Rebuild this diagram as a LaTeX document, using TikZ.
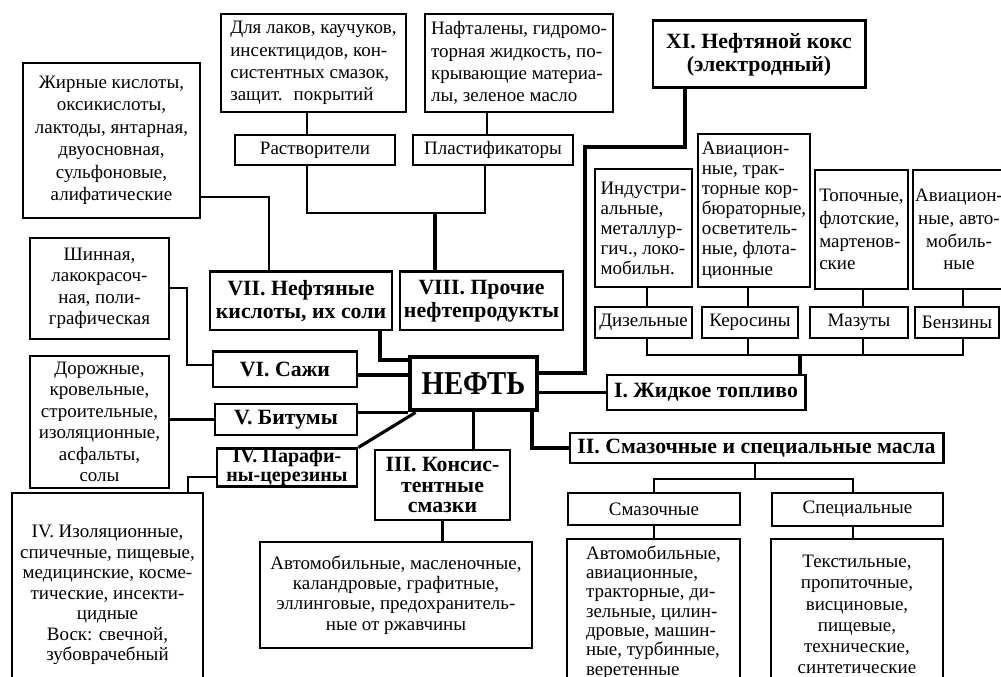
\documentclass[tikz,border=0pt]{standalone}
\usepackage{fontspec}
\setmainfont{Liberation Serif}
\usepackage{graphicx}
\usepackage{tikz}

\begin{document}
\begin{tikzpicture}[x=0.2mm,y=-0.2mm,
   txt/.style={font=\fontsize{10.8}{12.2}\selectfont,align=center,inner sep=1pt},
   thinbox/.style={txt,draw,line width=0.8pt},
   medbox/.style={txt,draw,line width=1.1pt},
   headbox/.style={draw,line width=1.7pt,font=\bfseries\fontsize{12.4}{13}\selectfont,align=center,inner sep=1pt},
   thinlink/.style={line width=0.8pt},
   medlink/.style={line width=1.2pt},
   thicklink/.style={line width=1.8pt}]
   \clip (0,0) rectangle (1001,677);

   \draw (111.5,140.5) node[medbox,minimum width=35.4mm,minimum height=31mm,font=\fontsize{10.8}{12.8}\selectfont] (zhir) {Жирные кислоты,\\оксикислоты,\\лактоды, янтарная,\\двуосновная,\\сульфоновые,\\алифатические};
   \draw (313.5,63) node[medbox,align=left,minimum width=37mm,minimum height=19.6mm,font=\fontsize{10.8}{12.6}\selectfont] (lak) {Для лаков, каучуков,\\инсектицидов, кон-\\систентных смазок,\\защит.~ покрытий};
   \draw (519,63) node[medbox,align=left,minimum width=37.6mm,minimum height=19.6mm,font=\fontsize{10.8}{12.6}\selectfont] (naft) {Нафталены, гидромо-\\торная жидкость, по-\\крывающие материа-\\лы, зеленое масло};
   \draw (315,150) node[thinbox,minimum width=32mm,minimum height=6mm] (rastv) {Растворители};
   \draw (493,150) node[thinbox,minimum width=32mm,minimum height=6mm] (plast) {Пластификаторы};
   \draw (759,54.5) node[headbox,minimum width=42.4mm,minimum height=13.4mm] (koks) {XI. Нефтяной кокс\\(электродный)};
   \draw (301,301) node[headbox,minimum width=36.4mm,minimum height=11.6mm] (kisl) {VII. Нефтяные\\кислоты, их соли};
   \draw (481.5,301) node[headbox,minimum width=32.6mm,minimum height=11.6mm] (proch) {VIII. Прочие\\нефтепродукты};
   \draw (99.5,288.5) node[thinbox,minimum width=27.8mm,minimum height=20.2mm] (shin) {Шинная,\\лакокрасоч-\\ная, поли-\\графическая};
   \draw (285,369.5) node[headbox,minimum width=28.8mm,minimum height=7mm] (sazhi) {VI. Сажи};
   \draw (473.5,383.5) node[headbox,line width=2.8pt,minimum width=25.4mm,minimum height=10.6mm,font=\bfseries\fontsize{19}{20}\selectfont] (neft) {\scalebox{0.86}[1]{НЕФТЬ}};
   \draw (99.5,422) node[thinbox,minimum width=27.8mm,minimum height=26.4mm] (dor) {Дорожные,\\кровельные,\\строительные,\\изоляционные,\\асфальты,\\солы};
   \draw (286,419.5) node[headbox,minimum width=28.4mm,minimum height=6.2mm] (bitum) {V. Битумы};
   \draw (287,467.5) node[headbox,minimum width=28mm,minimum height=7mm,inner ysep=0pt,font=\bfseries\fontsize{11.4}{10.8}\selectfont] (paraf) {IV. Парафи-\\ны-церезины};
   \draw (107.5,595) node[medbox,minimum width=38.2mm,minimum height=40.8mm,font=\fontsize{10.8}{11.7}\selectfont] (izol) {IV. Изоляционные,\\спичечные, пищевые,\\медицинские, косме-\\тические, инсекти-\\цидные\\Воск: свечной,\\зубоврачебный};
   \draw (442.5,485) node[headbox,minimum width=27mm,minimum height=14mm,font=\bfseries\fontsize{12.4}{11.4}\selectfont] (konsist) {III. Консис-\\тентные\\смазки};
   \draw (396,595) node[thinbox,minimum width=54.4mm,minimum height=21.2mm,font=\fontsize{10.8}{11.5}\selectfont] (avto) {Автомобильные, масленочные,\\каландровые, графитные,\\эллинговые, предохранитель-\\ные от ржавчины};
   \draw (706,392.5) node[headbox,minimum width=39.6mm,minimum height=7mm] (zhidk) {I. Жидкое топливо};
   \draw (643.5,228) node[medbox,align=left,minimum width=19.4mm,minimum height=23.6mm,font=\fontsize{10.8}{11.4}\selectfont] (industr) {Индустри-\\альные,\\металлур-\\гич., локо-\\мобильн.};
   \draw (754,210.5) node[thinbox,align=left,minimum width=22.4mm,minimum height=30.6mm,font=\fontsize{10.8}{11.4}\selectfont] (aviak) {Авиацион-\\ные, трак-\\торные кор-\\бюраторные,\\осветитель-\\ные, флота-\\ционные};
   \draw (861.5,229.5) node[medbox,align=left,minimum width=18.6mm,minimum height=23.8mm,font=\fontsize{10.8}{13}\selectfont] (topoch) {Топочные,\\флотские,\\мартенов-\\ские};
   \draw (959,229.5) node[medbox,minimum width=18.4mm,minimum height=23.8mm,font=\fontsize{10.8}{13}\selectfont] (aviab) {Авиацион-\\ные, авто-\\мобиль-\\ные};
   \draw (643.5,322.5) node[thinbox,minimum width=19.4mm,minimum height=6.2mm] (dizel) {Дизельные};
   \draw (750,322.5) node[thinbox,minimum width=19.2mm,minimum height=6.2mm] (keros) {Керосины};
   \draw (859,322.5) node[thinbox,minimum width=19.6mm,minimum height=6.2mm] (mazut) {Мазуты};
   \draw (957,322.5) node[medbox,line width=1.4pt,minimum width=16.8mm,minimum height=6.2mm] (benzin) {Бензины};
   \draw (756.5,448) node[headbox,minimum width=74.6mm,minimum height=6mm] (masla) {II. Смазочные и специальные масла};
   \draw (654,509) node[thinbox,minimum width=34.4mm,minimum height=6.4mm] (smaz) {Смазочные};
   \draw (857.5,509.5) node[thinbox,minimum width=34.2mm,minimum height=6.6mm] (spec) {Специальные};
   \draw (653.5,612.5) node[medbox,align=left,minimum width=34.6mm,minimum height=29.4mm,font=\fontsize{10.8}{11}\selectfont] (smazch) {Автомобильные,\\авиационные,\\тракторные, ди-\\зельные, цилин-\\дровые, машин-\\ные, турбинные,\\веретенные};
   \draw (857,614.5) node[medbox,minimum width=34.4mm,minimum height=30.2mm,font=\fontsize{10.8}{12}\selectfont] (specch) {Текстильные,\\пропиточные,\\висциновые,\\пищевые,\\технические,\\синтетические};

   \coordinate (brk) at (435,213);
   \coordinate (fuelbus) at (800,355);
   \coordinate (oilbus) at (755,479);

     \draw[thinlink] (zhir.east |- 0,197) -| (kisl.north -| 269,0);
     \draw[medlink] (lak.south -| 307,0) -- (rastv.north -| 307,0);
     \draw[medlink] (naft.south -| 487,0) -- (plast.north -| 487,0);
     \draw[medlink] (rastv.south -| 307,0) |- (brk) -| (plast.south -| 485,0);
     \draw[thicklink] (brk) -- (proch.north -| brk);
     \draw[thicklink] (koks.south -| 685,0) |- (585,147) |- (neft.east |- 0,373);
     \draw[thicklink] (kisl.south -| 380,0) |- (neft.west |- 0,360);
     \draw[medlink] (shin.east |- 0,288) -- (187,288) |- (sazhi.west |- 0,365);
     \draw[thicklink] (sazhi.east |- 0,375) -- (neft.west |- 0,375);
     \draw[medlink] (dor.east |- bitum.west) -- (bitum.west);
     \draw[thicklink] (bitum.east |- neft.south) -- (neft.south west);
     \draw[thicklink] ([xshift=1.6mm]neft.south west) -- (paraf.north east);
     \draw[thinlink] (paraf.west |- 0,477) -| (izol.north -| 188,0);
     \draw[thicklink] (neft.south) -- (konsist.north -| neft.south);
     \draw[medlink] (konsist.south) -- (avto.north -| konsist.south);
     \draw[thicklink] (neft.east |- zhidk.west) -- (zhidk.west);
     \draw[thicklink] (zhidk.north -| fuelbus) -- (fuelbus);
     \draw[medlink] (dizel.south -| 647,0) |- (fuelbus) -| (benzin.south -| 963,0);
     \draw[medlink] (keros.south -| 748,0) -- (748,0 |- fuelbus);
     \draw[medlink] (mazut.south -| 863,0) -- (863,0 |- fuelbus);
     \draw[medlink] (industr.south -| 647,0) -- (dizel.north -| 647,0);
     \draw[medlink] (aviak.south -| 748,0) -- (keros.north -| 748,0);
     \draw[medlink] (topoch.south -| 863,0) -- (mazut.north -| 863,0);
     \draw[medlink] (aviab.south -| 963,0) -- (benzin.north -| 963,0);
     \draw[thicklink] (neft.south -| 532,0) |- (masla.west);
     \draw[medlink] (masla.south -| oilbus) -- (oilbus);
     \draw[thinlink] (smaz.north -| 654,0) |- (oilbus) -| (spec.north -| 853,0);
     \draw[thinlink] (smaz.south) -- (smazch.north -| smaz.south);
     \draw[medlink] (spec.south -| 853,0) -- (specch.north -| 853,0);

\end{tikzpicture}
\end{document}
